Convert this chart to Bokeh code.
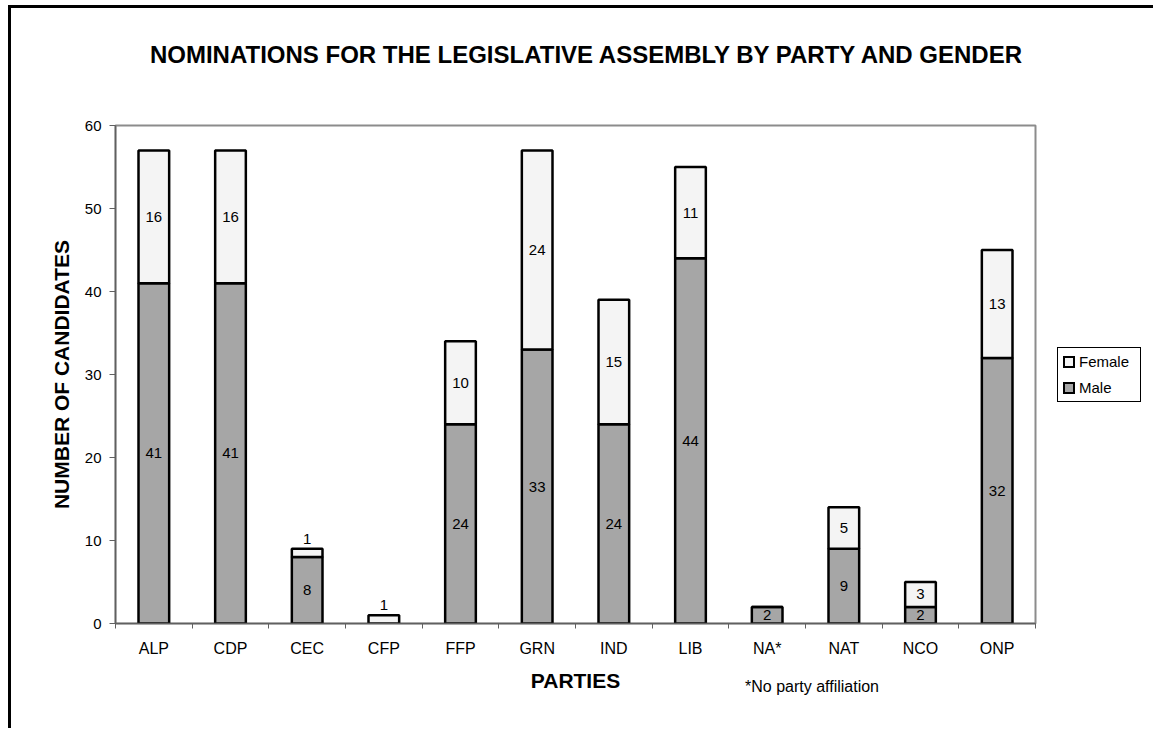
from bokeh.plotting import figure
from bokeh.models import (Range1d, FixedTicker, SingleIntervalTicker, LinearAxis,
                          Div, ColumnDataSource)
from bokeh.layouts import column
from bokeh.core.properties import value
from bokeh.embed import file_html
from bokeh.resources import INLINE

# Nominations by party, split by gender
parties = ["ALP", "CDP", "CEC", "CFP", "FFP", "GRN", "IND", "LIB", "NA*", "NAT", "NCO", "ONP"]
male = [41, 41, 8, 0, 24, 33, 24, 44, 2, 9, 2, 32]
female = [16, 16, 1, 1, 10, 24, 15, 11, 0, 5, 3, 13]
y_ticks_interval = 10
y_max = 60

FONT = "Liberation Sans"
MALE_COLOR = "#a6a6a6"
FEMALE_COLOR = "#f4f4f4"
AXIS_COLOR = "#606060"

n = len(parties)
centers = [i + 0.5 for i in range(n)]
edges = list(range(n + 1))

src = ColumnDataSource(dict(x=centers, party=parties, male=male, female=female))

p = figure(width=1145, height=723, x_range=Range1d(0, n), y_range=Range1d(0, y_max),
           x_axis_type=None, y_axis_type=None,
           output_backend="svg", toolbar_location=None,
           min_border_left=104, min_border_right=121, min_border_top=117, min_border_bottom=108)
p.outline_line_color = "#8c8c8c"
p.outline_line_width = 2
p.background_fill_color = "white"
p.border_fill_color = "white"
p.styles = {"margin-left": "8px", "margin-top": "5px",
            "border-top": "3px solid black", "border-left": "3px solid black"}

# axes
xaxis = LinearAxis(
    ticker=FixedTicker(ticks=centers, minor_ticks=edges),
    major_label_overrides={c: name for c, name in zip(centers, parties)},
    major_tick_in=0, major_tick_out=0,
    minor_tick_in=0, minor_tick_out=5, minor_tick_line_color=AXIS_COLOR,
    axis_line_color=AXIS_COLOR, axis_line_width=1.5,
    major_label_standoff=11,
    major_label_text_font=FONT, major_label_text_font_size="16px",
    major_label_text_color="black",
    axis_label="PARTIES", axis_label_standoff=9,
    axis_label_text_font=FONT, axis_label_text_font_size="21px",
    axis_label_text_font_style="bold", axis_label_text_color="black",
)
p.add_layout(xaxis, "below")

yaxis = LinearAxis(
    ticker=SingleIntervalTicker(interval=y_ticks_interval, num_minor_ticks=0),
    major_tick_in=0, major_tick_out=6, major_tick_line_color=AXIS_COLOR,
    minor_tick_line_color=None,
    axis_line_color=AXIS_COLOR, axis_line_width=1.5,
    major_label_standoff=8,
    major_label_text_font=FONT, major_label_text_font_size="15px",
    major_label_text_color="black",
    axis_label="NUMBER OF CANDIDATES", axis_label_standoff=9,
    axis_label_text_font=FONT, axis_label_text_font_size="21px",
    axis_label_text_font_style="bold", axis_label_text_color="black",
)
p.add_layout(yaxis, "left")

# stacked bars
r_male, r_female = p.vbar_stack(["male", "female"], x="x", width=0.4, source=src,
                                fill_color=[MALE_COLOR, FEMALE_COLOR],
                                line_color="black", line_width=2.5)

# value labels: centred in each segment, or just above a segment too thin to hold one
mx, my, mt = [], [], []
fx, fy, ft = [], [], []
ax, ay, at = [], [], []
for c, m, f in zip(centers, male, female):
    if m > 0:
        mx.append(c); my.append(m / 2); mt.append(str(m))
    if f >= 2:
        fx.append(c); fy.append(m + f / 2); ft.append(str(f))
    elif f > 0:
        ax.append(c); ay.append(m + f); at.append(str(f))

label_kw = dict(text_font=value(FONT), text_font_size="15px", text_color="black",
                text_align="center")
p.text(x=mx, y=my, text=mt, text_baseline="middle", **label_kw)
p.text(x=fx, y=fy, text=ft, text_baseline="middle", **label_kw)
p.text(x=ax, y=ay, text=at, text_baseline="alphabetic", y_offset=-10, **label_kw)

# chart title
title = Div(text="NOMINATIONS FOR THE LEGISLATIVE ASSEMBLY BY PARTY AND GENDER",
            styles={"position": "absolute", "left": "131px", "top": "36px", "width": "900px",
                    "text-align": "center", "font-family": FONT, "font-size": "24px",
                    "font-weight": "bold", "line-height": "28px", "white-space": "nowrap",
                    "color": "black"})

# legend box in the right-hand margin
def legend_row(label, fill):
    return ('<div style="display:flex;align-items:center;height:26px">'
            f'<span style="display:inline-block;flex:0 0 auto;box-sizing:border-box;'
            f'width:12px;height:12px;border:2px solid black;'
            f'background:{fill};margin-right:4px"></span>{label}</div>')

legend = Div(text=legend_row("Female", FEMALE_COLOR) + legend_row("Male", MALE_COLOR),
             styles={"position": "absolute", "left": "1052px", "top": "342px",
                     "width": "84px", "height": "55px", "padding": "1px 0 0 5px",
                     "border": "1px solid black", "background": "white",
                     "font-family": FONT, "font-size": "15px", "color": "black",
                     "box-sizing": "border-box"})

# footnote under the category axis
note = Div(text="*No party affiliation",
           styles={"position": "absolute", "left": "740px", "top": "673px",
                   "font-family": FONT, "font-size": "16px", "line-height": "18px",
                   "white-space": "nowrap", "color": "black"})

layout = column(p, title, legend, note)
open("out.html", "w").write(file_html(layout, INLINE))
